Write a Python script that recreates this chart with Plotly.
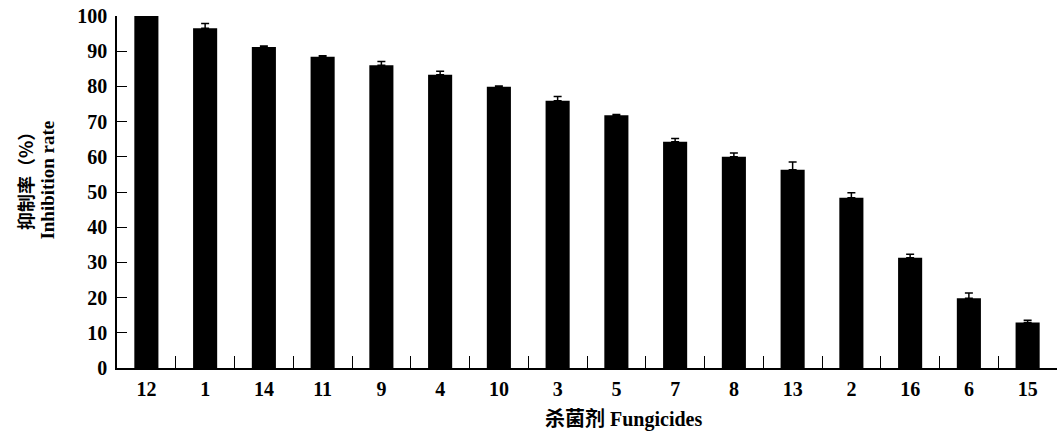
import plotly.graph_objects as go

categories = ["12", "1", "14", "11", "9", "4", "10", "3", "5", "7", "8", "13", "2", "16", "6", "15"]
inhibition = [100.0, 96.5, 91.2, 88.4, 86.0, 83.3, 79.9, 75.9, 71.8, 64.3, 60.0, 56.3, 48.4, 31.3, 19.8, 12.9]
error_up = [0.0, 1.4, 0.3, 0.3, 1.1, 1.0, 0.2, 1.2, 0.2, 0.9, 1.1, 2.2, 1.4, 1.0, 1.5, 0.7]
y_ticks = [0, 10, 20, 30, 40, 50, 60, 70, 80, 90, 100]

serif = "Liberation Serif, Times New Roman, serif"
cjk = "Noto Sans CJK SC"

fig = go.Figure()
fig.add_trace(go.Bar(
    x=categories,
    y=inhibition,
    marker=dict(color="black", line=dict(width=0)),
    error_y=dict(type="data", array=error_up, arrayminus=[0] * len(error_up),
                 symmetric=False, color="black", thickness=1.5, width=4),
    width=0.41,
))

fig.update_layout(
    width=1057, height=434,
    margin=dict(l=117, r=0, t=16, b=66, autoexpand=False),
    paper_bgcolor="white", plot_bgcolor="white",
    showlegend=False,
    bargap=0.59,
)
fig.update_xaxes(
    type="category",
    range=[-0.5, 15.5],
    automargin=False,
    showline=True, linecolor="black", linewidth=1.5,
    ticks="inside", tickson="boundaries", ticklen=12, tickwidth=1.2, tickcolor="black",
    tickfont=dict(family=serif, size=20, color="black", weight="bold"),
    ticklabelstandoff=2,
    showgrid=False, zeroline=False,
)
fig.update_yaxes(
    range=[0, 100],
    tickvals=y_ticks,
    automargin=False,
    showline=True, linecolor="black", linewidth=1.5,
    ticks="inside", ticklen=10, tickwidth=1.2, tickcolor="black",
    tickfont=dict(family=serif, size=20, color="black", weight="bold"),
    ticklabelstandoff=4,
    showgrid=False, zeroline=False,
)

fig.add_annotation(
    text="抑制率（%）", textangle=-90,
    xref="paper", yref="paper", x=-0.098, y=0.545,
    xanchor="center", yanchor="middle", showarrow=False,
    font=dict(family=cjk, size=18, color="black", weight="bold"),
)
fig.add_annotation(
    text="Inhibition rate", textangle=-90,
    xref="paper", yref="paper", x=-0.0735, y=0.535,
    xanchor="center", yanchor="middle", showarrow=False,
    font=dict(family=serif, size=19, color="black", weight="bold"),
)
fig.add_annotation(
    text="<span style='font-family:Noto Sans CJK SC'>杀菌剂</span> Fungicides",
    xref="paper", yref="paper", x=0.539, y=-0.142,
    xanchor="center", yanchor="middle", showarrow=False,
    font=dict(family=serif, size=20, color="black", weight="bold"),
)

fig.write_html("out.html", config={"displayModeBar": False},
               post_script="document.body.style.margin='0';")
